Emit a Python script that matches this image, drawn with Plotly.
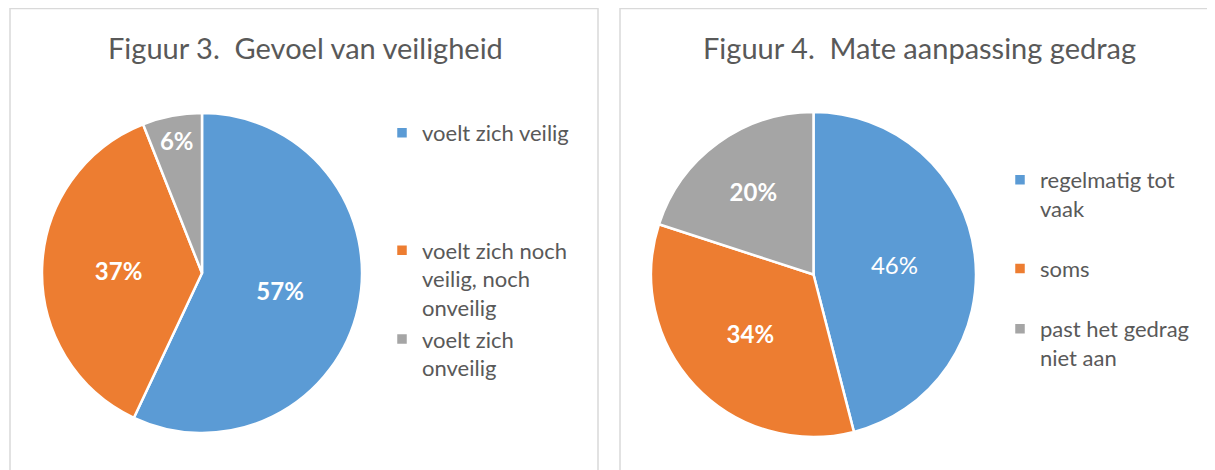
import plotly.graph_objects as go

# page has an 8px body margin, so the figure is laid out in page pixels minus 8
OFF = 8
W, H = 1215 - OFF, 470 - OFF

# ---- data ----
fig3_title = "Figuur 3.  Gevoel van veiligheid"
fig3_labels = ["voelt zich veilig", "voelt zich noch<br>veilig, noch<br>onveilig", "voelt zich<br>onveilig"]
fig3_values = [57, 37, 6]

fig4_title = "Figuur 4.  Mate aanpassing gedrag"
fig4_labels = ["regelmatig tot<br>vaak", "soms", "past het gedrag<br>niet aan"]
fig4_values = [46, 34, 20]

colors = ["#5B9BD5", "#ED7D31", "#A5A5A5"]
TXT = "#595959"
FONT = "Lato"
NB = "<br>\u00a0"

# legend labels padded with blank lines to space entries like the original
fig3_legend_labels = [fig3_labels[0] + NB * 3, fig3_labels[1], fig3_labels[2]]
fig4_legend_labels = [fig4_labels[0] + NB, fig4_labels[1] + NB, fig4_labels[2]]


def px(x):
    return (x - OFF) / W


def py(y):
    return 1 - (y - OFF) / H


fig = go.Figure()

fig.add_trace(go.Pie(
    labels=fig3_legend_labels, values=fig3_values, sort=False, direction="clockwise", rotation=0,
    marker=dict(colors=colors, line=dict(color="white", width=2.5)),
    texttemplate="<b>%{percent:.0%}</b>", textposition="inside", insidetextorientation="horizontal",
    textfont=dict(family=FONT, size=24, color="white"),
    domain=dict(x=[px(42), px(362)], y=[py(433), py(113)]),
    hoverinfo="label+percent", legend="legend",
))

fig.add_trace(go.Pie(
    labels=fig4_legend_labels, values=fig4_values, sort=False, direction="clockwise", rotation=0,
    marker=dict(colors=colors, line=dict(color="white", width=2.5)),
    texttemplate=["%{percent:.0%}", "<b>%{percent:.0%}</b>", "<b>%{percent:.0%}</b>"],
    textposition="inside", insidetextorientation="horizontal",
    textfont=dict(family=FONT, size=24, color="white"),
    domain=dict(x=[px(651), px(976)], y=[py(437), py(112)]),
    hoverinfo="label+percent", legend="legend2",
))

legend_common = dict(
    font=dict(family=FONT, size=22, color=TXT),
    bgcolor="rgba(0,0,0,0)", valign="top", xanchor="left", yanchor="top",
    itemclick=False, itemdoubleclick=False, tracegroupgap=0,
)

title_font = dict(family=FONT, size=29, color=TXT)

fig.update_layout(
    width=W, height=H,
    margin=dict(l=0, r=0, t=0, b=0),
    paper_bgcolor="white", plot_bgcolor="white",
    font=dict(family=FONT, color=TXT),
    showlegend=True,
    legend=dict(x=px(382), y=py(112), **legend_common),
    legend2=dict(x=px(1000), y=py(159), **legend_common),
    annotations=[
        dict(text=fig3_title, x=px(305), y=py(48), xref="paper", yref="paper",
             xanchor="center", yanchor="middle", showarrow=False, font=title_font),
        dict(text=fig4_title, x=px(919), y=py(48), xref="paper", yref="paper",
             xanchor="center", yanchor="middle", showarrow=False, font=title_font),
    ],
    shapes=[
        dict(type="rect", xref="paper", yref="paper", x0=px(10), x1=px(598), y0=py(480), y1=py(8.5),
             line=dict(color="#D9D9D9", width=1.5), fillcolor="rgba(0,0,0,0)", layer="below"),
        dict(type="rect", xref="paper", yref="paper", x0=px(620), x1=px(1230), y0=py(480), y1=py(8.5),
             line=dict(color="#D9D9D9", width=1.5), fillcolor="rgba(0,0,0,0)", layer="below"),
    ],
)

fig.write_html("out.html")
